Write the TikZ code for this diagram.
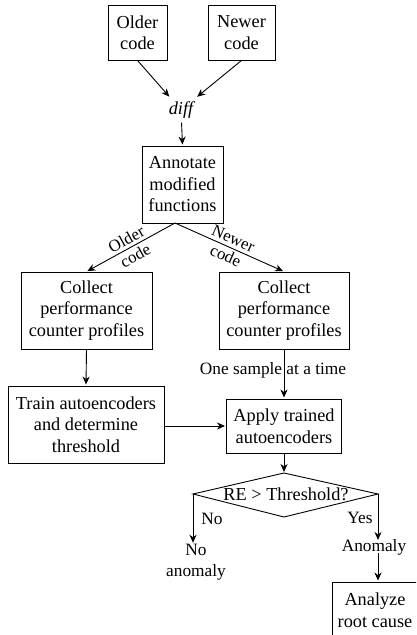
\documentclass[tikz,border=0pt]{standalone}
\usepackage{fontspec}
\setmainfont{Liberation Serif}
\usetikzlibrary{arrows.meta}
\newcommand{\diagfont}{\fontsize{18.3}{21.5}\selectfont}
\newcommand{\smfont}{\fontsize{17.3}{21}\selectfont}
\newcommand{\lblfont}{\fontsize{16.8}{19}\selectfont}
\begin{document}
\begin{tikzpicture}[x=1pt,y=-1pt,
  box/.style={draw, line width=0.9pt, align=center, inner sep=0pt, font=\diagfont},
  txt/.style={align=center, inner sep=0pt, font=\diagfont},
  stxt/.style={align=center, inner sep=0pt, font=\smfont},
  slbl/.style={align=center, inner sep=0pt, font=\lblfont, sloped},
  arr/.style={line width=0.9pt, -{Stealth[length=8pt,width=7pt,inset=2.5pt]}, shorten >=1pt}]
\useasboundingbox (0,0) rectangle (416,635);
\clip (0,0) rectangle (416,635);
\node[box, minimum width=59pt, minimum height=55pt] (old) at (137.5,32.5) {Older\\code};
\node[box, minimum width=67pt, minimum height=55pt] (new) at (241.5,32.5) {Newer\\code};
\node[txt, inner sep=4pt] (diff) at (181,110) {\itshape diff};
\node[box, minimum width=81pt, minimum height=77pt] (annot) at (182.5,184.5) {Annotate\\modified\\functions};
\coordinate (apex) at (175,223);
\node[box, minimum width=131pt, minimum height=77pt] (coll1) at (86.5,310.5) {Collect\\performance\\counter profiles};
\node[box, minimum width=130pt, minimum height=77pt] (coll2) at (284,310.5) {Collect\\performance\\counter profiles};
\node[box, minimum width=156pt, minimum height=77pt] (train) at (86,424.5) {Train autoencoders\\and determine\\threshold};
\node[box, minimum width=115pt, minimum height=54pt] (apply) at (284,426) {Apply trained\\autoencoders};
\coordinate (dt) at (284,473);
\coordinate (dl) at (193,494);
\coordinate (dr) at (378,494);
\coordinate (db) at (284,517);
\draw[line width=0.9pt] (dt) -- (dr) -- (db) -- (dl) -- cycle;
\node[txt] (dec) at (286,494) {RE > Threshold?};
\node[stxt] (noan) at (196,562) {No\\anomaly};
\node[stxt] (anom) at (374,547) {Anomaly};
\node[box, minimum width=85pt, minimum height=56pt] (analyze) at (375,610) {Analyze\\root cause};
\draw[arr] (old.south) -- (diff);
\draw[arr] (new.south) -- (diff);
\draw[arr] (diff) -- (annot.north);
\draw[arr] (apex) -- node[slbl] {Older\\code} (coll1.north);
\draw[arr] (apex) -- node[slbl] {Newer\\code} (coll2.north);
\draw[arr] (coll1.south) -- (train.north);
\draw[arr] (coll2.south) -- node[stxt, pos=0.42, xshift=-11pt] {One sample at a time} (apply.north);
\draw[arr] (train.east |- apply.west) -- (apply.west);
\draw[arr] (apply.south) -- (dt);
\draw[arr] (dl) -- node[stxt, pos=0.5, xshift=19pt] {No} (dl |- noan.north);
\draw[arr] (dr) -- node[stxt, pos=0.5, xshift=-18pt] {Yes} ([yshift=-2pt]dr |- anom.north);
\draw[arr] ([yshift=2pt]dr |- anom.south) -- (dr |- analyze.north);
\end{tikzpicture}
\end{document}
